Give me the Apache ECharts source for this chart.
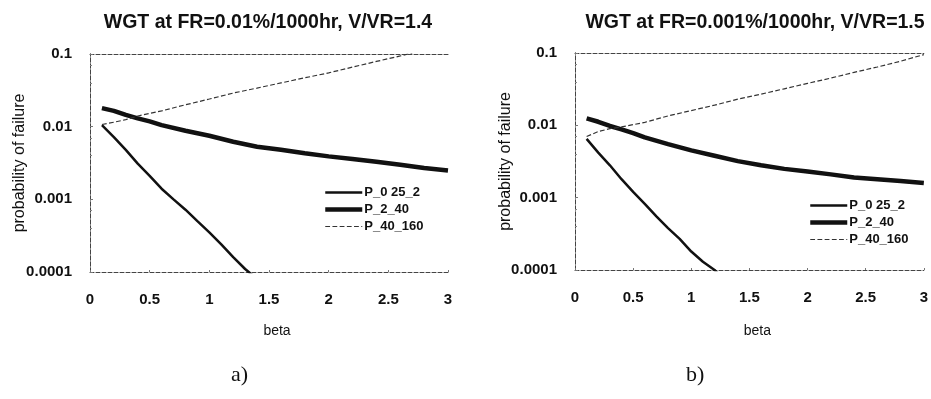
<!DOCTYPE html>
<html><head><meta charset="utf-8">
<script src="https://cdn.jsdelivr.net/npm/echarts@6/dist/echarts.min.js"></script>
<style>html,body{margin:0;padding:0;background:#fff}#c{width:931px;height:399px}</style>
</head><body><div id="c"></div>
<script>
// Panel a: WGT at FR=0.01%/1000hr, V/VR=1.4
const a_P_025_2 = [[0.1,0.0105],[0.2,0.0072],[0.3,0.0048],[0.4,0.0031],[0.5,0.0021],[0.6,0.0014],[0.7,0.001],[0.8,0.00072],[0.9,0.0005],[1.0,0.00035],[1.1,0.00024],[1.2,0.00016],[1.3,0.00011],[1.4,0.00008]];
const a_P_2_40 = [[0.1,0.018],[0.2,0.0165],[0.3,0.0145],[0.4,0.013],[0.5,0.0118],[0.6,0.0105],[0.8,0.0088],[1.0,0.0075],[1.2,0.0062],[1.4,0.0053],[1.6,0.0048],[1.8,0.0043],[2.0,0.0039],[2.2,0.0036],[2.4,0.0033],[2.6,0.003],[2.8,0.0027],[3.0,0.0025]];
const a_P_40_160 = [[0.1,0.0107],[0.2,0.0115],[0.3,0.0125],[0.4,0.014],[0.6,0.0165],[0.8,0.020],[1.0,0.024],[1.2,0.029],[1.4,0.034],[1.6,0.040],[1.8,0.047],[2.0,0.055],[2.2,0.066],[2.4,0.079],[2.6,0.094],[2.7,0.103]];
// Panel b: WGT at FR=0.001%/1000hr, V/VR=1.5
const b_P_025_2 = [[0.1,0.0065],[0.2,0.0042],[0.3,0.0028],[0.4,0.0018],[0.5,0.0012],[0.6,0.00082],[0.7,0.00055],[0.8,0.00038],[0.9,0.00027],[1.0,0.00018],[1.1,0.00013],[1.2,0.0001],[1.3,0.00007]];
const b_P_2_40 = [[0.1,0.0125],[0.2,0.0112],[0.3,0.0098],[0.4,0.0088],[0.5,0.0078],[0.6,0.0068],[0.8,0.0055],[1.0,0.0045],[1.2,0.0038],[1.4,0.0032],[1.6,0.0028],[1.8,0.0025],[2.0,0.0023],[2.2,0.0021],[2.4,0.0019],[2.6,0.0018],[2.8,0.0017],[3.0,0.0016]];
const b_P_40_160 = [[0.1,0.007],[0.2,0.0082],[0.3,0.009],[0.4,0.0095],[0.6,0.011],[0.8,0.0135],[1.0,0.016],[1.2,0.019],[1.4,0.023],[1.6,0.027],[1.8,0.032],[2.0,0.038],[2.2,0.045],[2.4,0.054],[2.6,0.064],[2.8,0.077],[3.0,0.095]];
const seriesNames = ['P_0 25_2','P_2_40','P_40_160'];
const titles = ['WGT at FR=0.01%/1000hr, V/VR=1.4','WGT at FR=0.001%/1000hr, V/VR=1.5'];
const captions = ['a)','b)'];
const xTicks = {min:0, max:3, interval:0.5};
const yRange = {min:0.0001, max:0.1};

const FONT = 'Liberation Sans, Arial, sans-serif';
const chart = echarts.init(document.getElementById('c'));
const grids = [
  {left:90, right:483, top:54, bottom:127},
  {left:575, right:1, top:53, bottom:129}
];
const frameLine = {lineStyle:{color:'#444', width:1, type:[4,2]}};
function xAxis(i, gap){return {gridIndex:i, type:'value', min:xTicks.min, max:xTicks.max, interval:xTicks.interval,
  name:'beta', nameLocation:'middle', nameGap:gap, nameMoveOverlap:false, nameTextStyle:{fontFamily:FONT, fontSize:14, color:'#111', padding:[0,0,0,16]},
  axisLine:frameLine, axisTick:{show:true, inside:true, length:2, lineStyle:{color:'#777'}},
  splitLine:{show:false}, axisLabel:{fontFamily:FONT, fontSize:15, fontWeight:'bold', color:'#111', margin:20}};}
function xTop(i){return {gridIndex:i, type:'value', position:'top', min:xTicks.min, max:xTicks.max, interval:xTicks.interval,
  axisLine:frameLine, axisTick:{show:false}, axisLabel:{show:false}, splitLine:{show:false}};}
function yAxis(i, gap){return {gridIndex:i, type:'log', logBase:10, min:yRange.min, max:yRange.max,
  name:'probability of failure', nameLocation:'middle', nameGap:gap, nameRotate:90, nameMoveOverlap:false,
  nameTextStyle:{fontFamily:FONT, fontSize:16, color:'#111'},
  axisLine:frameLine, axisTick:{show:true, inside:true, length:3, lineStyle:{color:'#777'}},
  minorTick:{show:true, splitNumber:3, length:2, lineStyle:{color:'#888'}},
  splitLine:{show:false}, axisLabel:{fontFamily:FONT, fontSize:15, fontWeight:'bold', color:'#111', margin:18}};}
function yRight(i){return {gridIndex:i, type:'log', logBase:10, position:'right', min:yRange.min, max:yRange.max,
  axisLine:frameLine, axisTick:{show:false}, axisLabel:{show:false}, splitLine:{show:false}};}
const styles = [
  {width:2.5, color:'#111', type:'solid'},
  {width:4.5, color:'#111', type:'solid'},
  {width:1.2, color:'#333', type:'dashed'}
];
function mk(i, name, data, st){return {type:'line', name:name, xAxisIndex:i, yAxisIndex:i, data:data,
  showSymbol:false, symbol:'none', lineStyle:st, itemStyle:{color:st.color}, clip:true, animation:false};}
const legendData = seriesNames.map((n, k) => ({name:n, lineStyle:{width:styles[k].width, type:styles[k].type, color:styles[k].color}}));
const legendCommon = {orient:'vertical', itemWidth:37, itemHeight:10, itemGap:4, data:legendData,
  itemStyle:{opacity:0}, textStyle:{fontFamily:FONT, fontSize:13, fontWeight:'bold', color:'#111', padding:[0,0,0,-3]}};
const option = {
  backgroundColor:'#fff',
  animation:false,
  title:[
    {text:titles[0], left:263, top:8, textAlign:'center', textStyle:{fontFamily:FONT, fontSize:19.5, fontWeight:'bold', color:'#111'}},
    {text:titles[1], left:750, top:8, textAlign:'center', textStyle:{fontFamily:FONT, fontSize:19.5, fontWeight:'bold', color:'#111'}}
  ],
  legend:[
    Object.assign({left:318, top:181}, legendCommon),
    Object.assign({left:803, top:194}, legendCommon)
  ],
  grid:grids,
  xAxis:[xAxis(0,52), xAxis(1,54), xTop(0), xTop(1)],
  yAxis:[yAxis(0,62), yAxis(1,61), yRight(0), yRight(1)],
  series:[
    mk(0, seriesNames[0], a_P_025_2, styles[0]),
    mk(0, seriesNames[1], a_P_2_40, styles[1]),
    mk(0, seriesNames[2], a_P_40_160, styles[2]),
    mk(1, seriesNames[0], b_P_025_2, styles[0]),
    mk(1, seriesNames[1], b_P_2_40, styles[1]),
    mk(1, seriesNames[2], b_P_40_160, styles[2])
  ],
  graphic:[
    {type:'text', left:231, top:364, style:{text:captions[0], fontFamily:'Liberation Serif, Times New Roman, serif', fontSize:22, fill:'#111'}},
    {type:'text', left:686, top:364, style:{text:captions[1], fontFamily:'Liberation Serif, Times New Roman, serif', fontSize:22, fill:'#111'}}
  ]
};
chart.setOption(option);
</script></body></html>
